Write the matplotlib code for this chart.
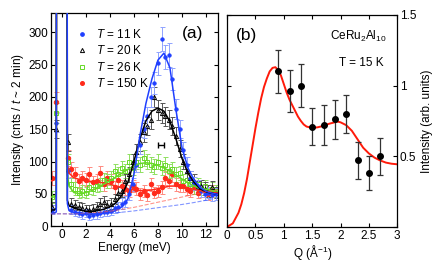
import numpy as np
import matplotlib
matplotlib.use("Agg")
import matplotlib.pyplot as plt
from matplotlib.lines import Line2D

plt.rcParams["font.family"] = ["Liberation Sans", "DejaVu Sans"]
plt.rcParams["mathtext.fontset"] = "custom"
plt.rcParams["mathtext.rm"] = "Liberation Sans"
plt.rcParams["mathtext.it"] = "Liberation Sans:italic"
plt.rcParams["font.size"] = 8.5

# ---- panel (a): inelastic spectra ----
energy = [-0.8, -0.5, 0.5, 0.8, 1.1, 1.4, 1.7, 2.0, 2.3, 2.6, 2.9, 3.2, 3.5, 3.8,
          4.1, 4.4, 4.7, 5.0, 5.3, 5.6, 5.9, 6.2, 6.5, 6.8, 7.1, 7.4, 7.7, 8.0,
          8.3, 8.6, 8.9, 9.2, 9.5, 9.8, 10.1, 10.4, 10.7, 11.0, 11.3, 11.6,
          11.9, 12.2, 12.5, 12.8]

cnt_11K = [25, 160, 85, 25, 22, 20, 18, 20, 16, 17, 18, 20, 22, 22,
           24, 28, 30, 35, 38, 50, 65, 95, 125, 150, 170, 200, 222, 252,
           290, 262, 265, 228, 182, 150, 118, 95, 75, 66, 62, 55,
           50, 52, 48, 50]
cnt_20K = [30, 150, 130, 35, 32, 30, 28, 26, 25, 27, 30, 35, 38, 33,
           35, 42, 52, 55, 70, 80, 100, 115, 130, 145, 155, 165, 200, 180,
           175, 170, 165, 155, 140, 120, 100, 85, 75, 70, 60, 62,
           58, 55, 60, 52]
cnt_26K = [45, 175, 100, 65, 58, 52, 55, 52, 60, 58, 62, 65, 72, 70,
           75, 85, 80, 90, 85, 100, 90, 100, 95, 105, 100, 95, 92, 100,
           90, 95, 85, 88, 80, 82, 70, 72, 65, 60, 65, 58,
           62, 55, 58, 55]
cnt_150K = [75, 192, 105, 88, 80, 70, 75, 72, 80, 68, 70, 82, 65, 75,
            70, 60, 72, 62, 58, 55, 62, 58, 50, 55, 48, 65, 52, 55,
            60, 74, 70, 80, 65, 62, 62, 58, 55, 60, 52, 58,
            55, 50, 55, 52]

energy_fit = [-0.9, -0.6, -0.46, -0.4, 0.4, 0.46, 0.6, 1.0, 1.5, 2.0, 2.5, 3.0,
              3.5, 4.0, 4.5, 5.0, 5.5, 6.0, 6.5, 7.0, 7.5, 8.0, 8.5, 9.0, 9.5,
              10.0, 10.5, 11.0, 11.5, 12.0, 12.5, 13.0]
fit_11K = [20, 20, 22, 2000, 2000, 35, 24, 21, 20, 19, 19, 19,
           20, 21, 24, 30, 42, 80, 140, 190, 228, 257, 268, 245, 180,
           122, 90, 72, 60, 54, 51, 49]
fit_20K = [25, 25, 28, 1500, 1500, 40, 32, 28, 25, 23, 23, 24,
           26, 30, 36, 48, 68, 100, 135, 163, 178, 183, 178, 162, 135,
           105, 82, 68, 58, 53, 51, 49]
fit_26K = [45, 45, 50, 1500, 1500, 80, 62, 52, 50, 52, 55, 60,
           65, 70, 76, 82, 88, 93, 97, 98, 97, 94, 90, 85, 79,
           73, 67, 62, 59, 57, 55, 54]
fit_150K = [70, 72, 80, 1500, 1500, 95, 82, 75, 72, 70, 69, 68,
            67, 65, 62, 60, 57, 56, 55, 55, 56, 58, 60, 62, 62,
            61, 59, 57, 55, 53, 52, 51]

energy_bg = [-0.9, 1, 2, 3, 4, 5, 6, 7, 8, 9, 10, 11, 12, 13]
bg_11K = [19, 19, 19, 19.5, 20, 21.5, 23.5, 26, 28.5, 31, 33.5, 36.5, 40, 44]
bg_150K = [19, 19, 20, 21, 23, 26, 29, 33, 37, 41, 45, 49, 53, 56]

resolution_e, resolution_i, resolution_hw = 8.25, 126, 0.28

# ---- panel (b): Q dependence ----
q_vals = [0.9, 1.1, 1.3, 1.5, 1.7, 1.9, 2.1, 2.3, 2.5, 2.7]
q_int = [1.10, 0.96, 1.00, 0.71, 0.72, 0.76, 0.80, 0.47, 0.38, 0.50]
q_err = [0.15, 0.15, 0.15, 0.13, 0.14, 0.14, 0.135, 0.13, 0.12, 0.13]

q_curve = [0.0, 0.1, 0.2, 0.25, 0.3, 0.35, 0.4, 0.45, 0.5, 0.55, 0.6, 0.65,
           0.7, 0.75, 0.8, 0.85, 0.9, 0.95, 1.0, 1.05, 1.1, 1.15, 1.2, 1.25,
           1.3, 1.35, 1.4, 1.5, 1.6, 1.7, 1.8, 1.9, 1.95, 2.0, 2.1, 2.2, 2.3,
           2.4, 2.5, 2.6, 2.7, 2.8, 2.9, 3.0]
f_curve = [0.0, 0.025, 0.1, 0.16, 0.24, 0.34, 0.46, 0.58, 0.70, 0.81, 0.91, 0.99,
           1.05, 1.10, 1.125, 1.13, 1.11, 1.07, 1.01, 0.95, 0.90, 0.86, 0.82, 0.78,
           0.75, 0.725, 0.71, 0.70, 0.705, 0.715, 0.73, 0.74, 0.745, 0.74, 0.72,
           0.68, 0.62, 0.56, 0.52, 0.49, 0.47, 0.455, 0.447, 0.443]

series = [
    ("$T$ = 150 K", cnt_150K, fit_150K, "#ff2a1a", "#ff8a80", "o", "#ff2a1a", 3.2),
    ("$T$ = 26 K", cnt_26K, fit_26K, "#66d926", "#8fe060", "s", "none", 3.0),
    ("$T$ = 20 K", cnt_20K, fit_20K, "black", "#555555", "^", "none", 3.0),
    ("$T$ = 11 K", cnt_11K, fit_11K, "#1f3fff", "#8fa3ff", "o", "#1f3fff", 2.4),
]

fig = plt.figure(figsize=(4.36, 2.66), dpi=100)
ax1 = fig.add_axes([0.117, 0.150, 0.383, 0.801])
ax2 = fig.add_axes([0.521, 0.147, 0.390, 0.797])

e = np.array(energy)
for label, cnt, fit, col, ecol, mk, mfc, ms in series:
    cnt = np.array(cnt, dtype=float)
    ax1.errorbar(e, cnt, yerr=np.sqrt(cnt) + 2, fmt=mk, color=col, ecolor=ecol,
                 mfc=mfc, mec=col, ms=ms, mew=0.7, elinewidth=0.7, capsize=1.8,
                 capthick=0.7, zorder=2)
for label, cnt, fit, col, ecol, mk, mfc, ms in series:
    ax1.plot(energy_fit, fit, color=col, lw=1.1, zorder=3)

ax1.plot(energy_bg, bg_150K, color="#ff5040", ls="--", lw=0.8, alpha=0.6, zorder=3)
ax1.plot(energy_bg, bg_11K, color="#3050ff", ls="--", lw=0.8, alpha=0.6, zorder=3)

ax1.errorbar([resolution_e], [resolution_i], xerr=[resolution_hw], fmt="none",
             ecolor="black", elinewidth=1.0, capsize=2.5, capthick=1.0)

ax1.set_xlim(-0.9, 13)
ax1.set_ylim(0, 330)
ax1.set_xticks(range(0, 13, 2))
ax1.set_yticks(range(0, 301, 50))
ax1.set_xlabel("Energy (meV)", labelpad=1)
ax1.set_ylabel("Intensity (cnts / $t$ ~ 2 min)", labelpad=2)
ax1.text(0.91, 0.906, "(a)", transform=ax1.transAxes, ha="right", va="center",
         fontsize=12.5)

handles = [
    Line2D([], [], ls="none", marker="o", color="#1f3fff", ms=2.4),
    Line2D([], [], ls="none", marker="^", color="black", mfc="none", ms=3, mew=0.7),
    Line2D([], [], ls="none", marker="s", color="#66d926", mfc="none", ms=3, mew=0.7),
    Line2D([], [], ls="none", marker="o", color="#ff2a1a", ms=2.6),
]
labels = ["$T$ = 11 K", "$T$ = 20 K", "$T$ = 26 K", "$T$ = 150 K"]
ax1.legend(handles, labels, loc="upper left", bbox_to_anchor=(0.1, 0.97),
           frameon=False, handlelength=1.0, handletextpad=0.7,
           labelspacing=0.3, fontsize=8.5, borderpad=0.2)

ax2.errorbar(q_vals, q_int, yerr=q_err, fmt="o", color="black", ecolor="#333333",
             ms=4, elinewidth=0.9, capsize=2, capthick=0.9, zorder=3)
ax2.plot(q_curve, f_curve, color="#ff1a0a", lw=1.4, zorder=2)
ax2.set_xlim(0, 3)
ax2.set_ylim(0, 1.5)
ax2.set_xticks([0, 0.5, 1, 1.5, 2, 2.5, 3])
ax2.set_xticklabels(["0", "0.5", "1", "1.5", "2", "2.5", "3"])
ax2.set_yticks([0, 0.5, 1, 1.5])
ax2.set_yticklabels(["", "0.5", "1", "1.5"])
ax2.yaxis.set_label_position("right")
ax2.set_ylabel("Intensity (arb. units)", labelpad=3)
ax2.set_xlabel("Q (Å$^{-1}$)", labelpad=1)
ax2.text(0.053, 0.905, "(b)", transform=ax2.transAxes, ha="left", va="center",
         fontsize=12.5)
ax2.text(0.94, 0.9, "CeRu$_2$Al$_{10}$", transform=ax2.transAxes, ha="right",
         va="center", fontsize=8.5)
ax2.text(0.918, 0.775, "T = 15 K", transform=ax2.transAxes, ha="right",
         va="center", fontsize=8.5)

for ax in (ax1, ax2):
    ax.tick_params(direction="in", top=True, right=True, length=3, width=0.8,
                   labelsize=8.5, pad=2)
    for sp in ax.spines.values():
        sp.set_linewidth(0.9)
ax2.tick_params(labelleft=False, labelright=True)

fig.savefig("out.png", dpi=100)
